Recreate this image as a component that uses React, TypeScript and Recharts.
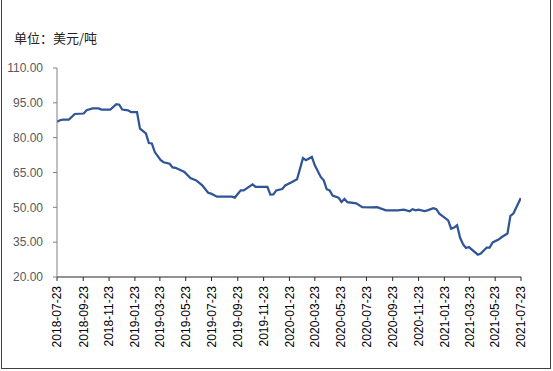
import React from "react";
import { LineChart, Line, XAxis, YAxis } from "recharts";

// Week index since 2018-07-23 and price (USD/ton)
const START_DATE = "2018-07-23";
const weeks = [
  0, 1, 2, 4, 6, 9, 10, 12, 14, 15, 18, 20, 21, 22, 24, 25, 27, 28, 30, 31,
  32, 33, 35, 36, 38, 39, 40, 43, 45, 47, 49, 51, 52, 54, 59, 60, 62, 63, 66, 67,
  71, 72, 73, 74, 76, 77, 79, 81, 83, 84, 86, 87, 89, 90, 91, 92, 93, 95, 96, 97,
  98, 101, 103, 106, 108, 111, 115, 117, 119, 120, 121, 122, 124, 125, 127, 128, 129, 130, 132, 133,
  134, 135, 136, 137, 138, 139, 140, 142, 143, 145, 146, 147, 149, 150, 152, 153, 154, 156.5,
];
const prices = [
  86.8, 87.5, 87.8, 87.8, 90.2, 90.4, 91.8, 92.6, 92.6, 92.1, 92.1, 94.4, 94.2, 92.1, 91.8, 91.0, 91.0, 83.9, 81.8, 77.7,
  77.5, 73.8, 70.3, 69.4, 68.8, 67.2, 67.0, 65.2, 62.6, 61.6, 59.5, 56.3, 55.9, 54.6, 54.6, 54.2, 57.3, 57.3, 59.9, 58.8,
  58.8, 55.5, 55.6, 57.3, 57.9, 59.4, 60.7, 62.1, 71.2, 70.3, 71.7, 68.1, 63.1, 61.6, 57.8, 57.3, 55.1, 54.2, 52.3, 53.6,
  52.2, 51.7, 50.1, 50.0, 50.1, 48.7, 48.7, 49.0, 48.3, 49.2, 48.7, 49.0, 48.4, 48.7, 49.6, 49.2, 47.3, 46.3, 44.4, 40.8,
  41.3, 42.3, 37.0, 34.1, 32.5, 32.9, 31.8, 29.6, 30.1, 32.7, 32.7, 34.9, 36.1, 37.1, 38.7, 46.3, 47.3, 54.0,
];
const tickLabels = [
  "2018-07-23", "2018-09-23", "2018-11-23", "2019-01-23", "2019-03-23", "2019-05-23",
  "2019-07-23", "2019-09-23", "2019-11-23", "2020-01-23", "2020-03-23", "2020-05-23",
  "2020-07-23", "2020-09-23", "2020-11-23", "2021-01-23", "2021-03-23", "2021-05-23",
  "2021-07-23",
];
const yTicks = [20, 35, 50, 65, 80, 95, 110];
const unitLabel = "单位：美元/吨";

const toWeek = (s: string) =>
  (Date.parse(s) - Date.parse(START_DATE)) / 86400000 / 7;

const data = weeks.map((w, i) => ({ w, v: prices[i] }));
const xTicks = tickLabels.map(toWeek);
const labelByTick = new Map(xTicks.map((t, i) => [t, tickLabels[i]]));

const XTick = (props: any) => {
  const { x, y, payload } = props;
  return (
    <g transform={`translate(${x},${y})`}>
      <text
        transform="rotate(-90)"
        x={-3}
        dy={4.3}
        textAnchor="end"
        fontSize={12}
        fontFamily="Liberation Sans, Arial, sans-serif"
        fill="#000"
      >
        {labelByTick.get(payload.value)}
      </text>
    </g>
  );
};

export default function App() {
  return (
    <div
      style={{
        position: "absolute",
        left: 0,
        top: 0,
        width: 553,
        height: 371,
        background: "#fff",
      }}
    >
      <div
        style={{
          position: "absolute",
          left: 1,
          top: 0,
          width: 550,
          height: 369,
          boxSizing: "border-box",
          borderLeft: "1px solid #404040",
          borderRight: "1px solid #404040",
          borderBottom: "1px solid #404040",
        }}
      />
      <div
        style={{
          position: "absolute",
          left: 14,
          top: 29,
          fontSize: 13,
          fontFamily: "Noto Sans CJK SC, sans-serif",
          color: "#222",
          lineHeight: "18px",
          whiteSpace: "nowrap",
        }}
      >
        {unitLabel}
      </div>
      <div style={{ position: "absolute", left: 0, top: 0 }}>
        <LineChart
          width={553}
          height={371}
          data={data}
          margin={{ top: 68, right: 32, left: 0, bottom: 14 }}
        >
          <XAxis
            dataKey="w"
            type="number"
            domain={[0, xTicks[xTicks.length - 1]]}
            ticks={xTicks}
            interval={0}
            height={80}
            tick={<XTick />}
            tickSize={4}
            tickMargin={2}
            stroke="#262626"
            axisLine={{ stroke: "#262626", strokeWidth: 1.2 }}
            tickLine={{ stroke: "#262626" }}
            allowDataOverflow
          />
          <YAxis
            type="number"
            domain={[20, 110]}
            ticks={yTicks}
            interval={0}
            width={57}
            tickSize={4}
            tickMargin={10}
            tickFormatter={(v: number) => v.toFixed(2)}
            tick={{
              fontSize: 12,
              fill: "#595959",
              fontFamily: "Liberation Sans, Arial, sans-serif",
            }}
            axisLine={{ stroke: "#808080" }}
            tickLine={{ stroke: "#808080" }}
            allowDataOverflow
          />
          <Line
            dataKey="v"
            type="linear"
            stroke="#2F5597"
            strokeWidth={2.25}
            dot={false}
            isAnimationActive={false}
          />
        </LineChart>
      </div>
    </div>
  );
}
